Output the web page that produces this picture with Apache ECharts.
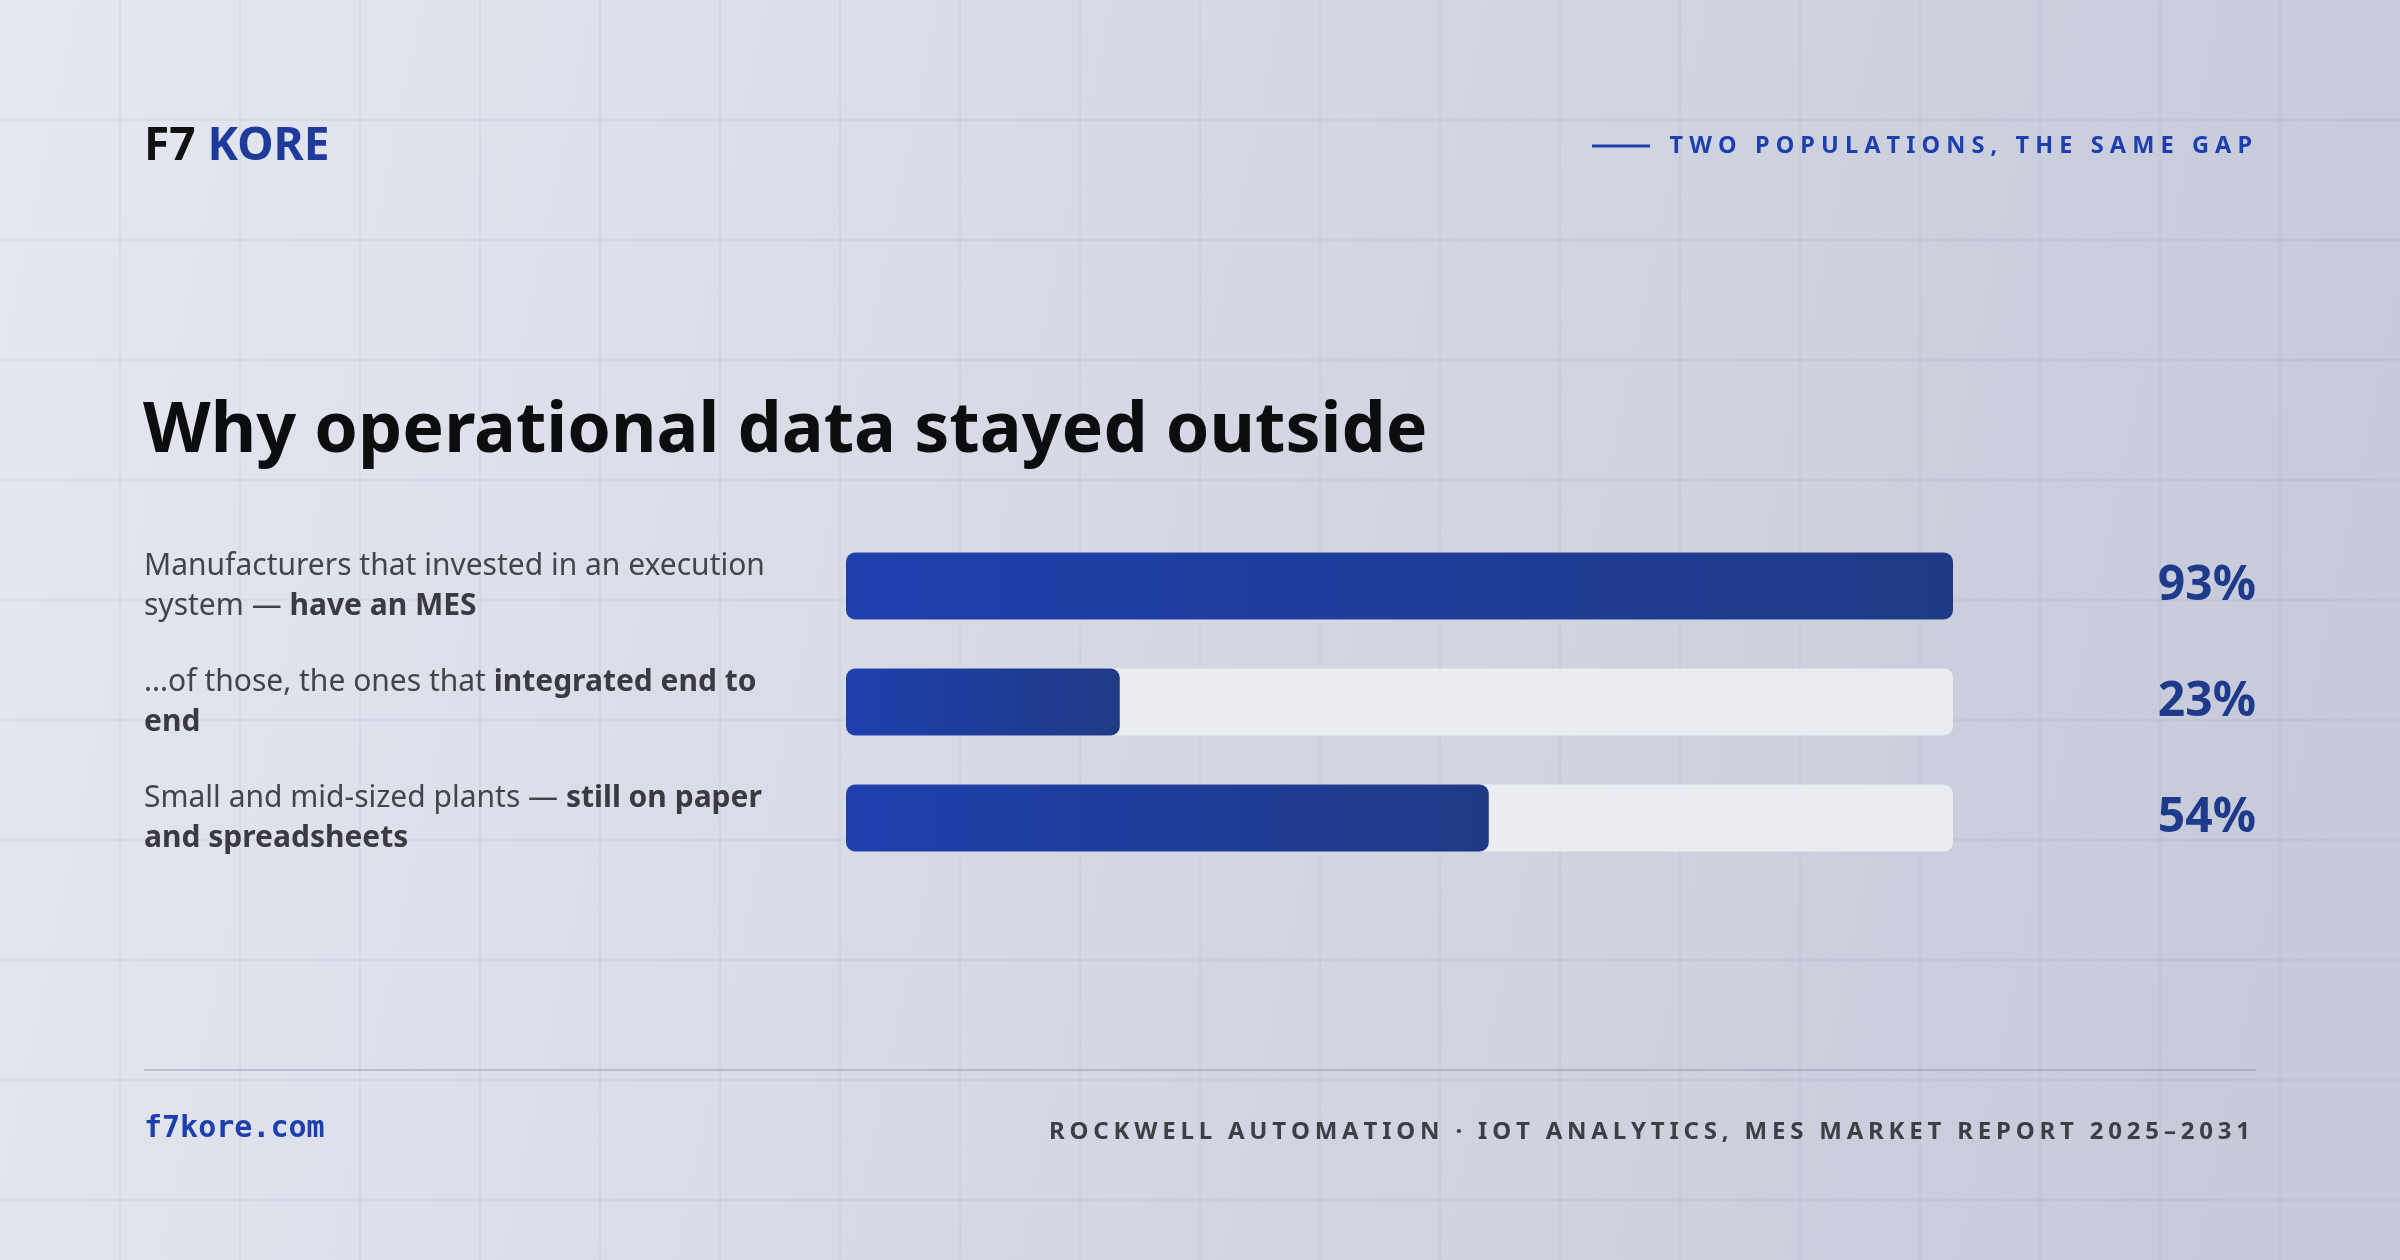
<!DOCTYPE html>
<html>
<head>
<meta charset="utf-8">
<script src="https://cdn.jsdelivr.net/npm/echarts@6/dist/echarts.min.js"></script>
<style>
html,body{margin:0;padding:0;}
#chart{width:2400px;height:1260px;}
</style>
</head>
<body>
<div id="chart"></div>
<script>
// row labels (rich markup, line breaks as in the card)
var categories = [
  'Manufacturers that invested in an execution\nsystem — {b|have an MES}',
  '...of those, the ones that {b|integrated end to}\n{b|end}',
  'Small and mid-sized plants — {b|still on paper}\n{b|and spreadsheets}'
];
var values = [93, 23, 54];
var valueLabels = ['93%', '23%', '54%'];

var myChart = echarts.init(document.getElementById('chart'));

var barFill = new echarts.graphic.LinearGradient(0, 0, 1, 0, [
  {offset: 0, color: '#1f3fae'},
  {offset: 1, color: '#1f3a85'}
]);

// faint background grid
var gridLines = [];
for (var gx = 120; gx < 2400; gx += 120) {
  gridLines.push({type: 'line', silent: true, shape: {x1: gx, y1: 0, x2: gx, y2: 1260},
    style: {stroke: 'rgba(120,130,160,0.10)', lineWidth: 1.5}});
}
for (var gy = 120; gy < 1260; gy += 120) {
  gridLines.push({type: 'line', silent: true, shape: {x1: 0, y1: gy, x2: 2400, y2: gy},
    style: {stroke: 'rgba(120,130,160,0.10)', lineWidth: 1.5}});
}

var option = {
  backgroundColor: new echarts.graphic.LinearGradient(0, 0, 1, 0.4, [
    {offset: 0, color: '#e5e8f0'},
    {offset: 0.55, color: '#d4d7e3'},
    {offset: 1, color: '#c6cad9'}
  ]),
  animation: false,
  graphic: gridLines.concat([
    {type: 'text', left: 144, top: 124, style: {
      text: '{a|F7}{s| }{b|KORE}',
      rich: {
        a: {fontFamily: 'Noto Sans', fontWeight: 'bold', fontSize: 46, fill: '#111111'},
        s: {fontSize: 46, width: 12},
        b: {fontFamily: 'Noto Sans', fontWeight: 'bold', fontSize: 46, fill: '#1e3a9a'}
      }}},
    {type: 'line', shape: {x1: 1592, y1: 146, x2: 1650, y2: 146}, style: {stroke: '#1e3fae', lineWidth: 3}},
    {type: 'text', right: 148, top: 134, style: {
      text: 'T W O   P O P U L A T I O N S ,   T H E   S A M E   G A P',
      fontFamily: 'Noto Sans', fontWeight: 'bold', fontSize: 23.5, fill: '#1e3fae'}},
    {type: 'text', left: 143, top: 397, style: {
      text: 'Why operational data stayed outside',
      fontFamily: 'Noto Sans', fontWeight: 'bold', fontSize: 70, fill: '#0d0d10'}},
    {type: 'line', shape: {x1: 144, y1: 1070, x2: 2256, y2: 1070}, style: {stroke: 'rgba(90,95,115,0.35)', lineWidth: 1.5}},
    {type: 'text', left: 144, top: 1114, style: {
      text: 'f7kore.com', fontFamily: 'DejaVu Sans Mono', fontWeight: 'bold', fontSize: 30, fill: '#1e3fae'}},
    {type: 'text', right: 150, top: 1120, style: {
      text: 'ROCKWELL AUTOMATION · IOT ANALYTICS, MES MARKET REPORT 2025–2031'.split('').join('\u200A\u200A'),
      fontFamily: 'Noto Sans', fontWeight: 'bold', fontSize: 24, fill: '#3e3e44'}}
  ]),
  grid: {left: 846, width: 1107, top: 528, height: 348},
  xAxis: {type: 'value', min: 0, max: 93, show: false},
  yAxis: [{
    type: 'category', inverse: true, data: categories,
    axisLine: {show: false}, axisTick: {show: false},
    axisLabel: {
      align: 'left', margin: 702,
      fontFamily: 'Noto Sans', fontSize: 30, color: '#44444a', lineHeight: 40,
      rich: {b: {fontFamily: 'Noto Sans', fontSize: 30, fontWeight: 'bold', color: '#3a3a40', lineHeight: 40}}
    }
  }, {
    type: 'category', inverse: true, position: 'right', data: valueLabels,
    axisLine: {show: false}, axisTick: {show: false},
    axisLabel: {align: 'right', margin: 303, fontFamily: 'Noto Sans', fontWeight: 'bold',
      fontSize: 48, color: '#1e3a8a'}
  }],
  series: [{
    type: 'bar', data: values, barWidth: 67,
    showBackground: true,
    backgroundStyle: {color: 'rgba(240,241,246,0.85)', borderRadius: 9},
    itemStyle: {color: barFill, borderRadius: 9}
  }]
};
myChart.setOption(option);
</script>
</body>
</html>
